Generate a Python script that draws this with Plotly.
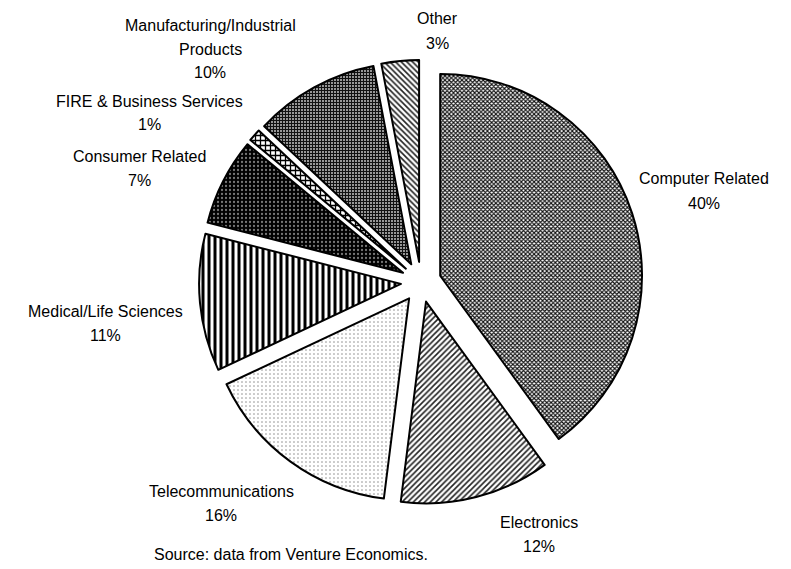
import plotly.graph_objects as go

categories = ["Computer Related", "Electronics", "Telecommunications",
              "Medical/Life Sciences", "Consumer Related",
              "FIRE & Business Services", "Manufacturing/Industrial Products", "Other"]
values = [40, 12, 16, 11, 7, 1, 10, 3]
label_lines = [["Computer Related"], ["Electronics"], ["Telecommunications"],
               ["Medical/Life Sciences"], ["Consumer Related"],
               ["FIRE & Business Services"], ["Manufacturing/Industrial", "Products"], ["Other"]]
source_text = "Source: data from Venture Economics."

W, H = 791, 569
pat_shape = ["x", "/", ".", "|", ".", "+", "+", "\\"]
pat_size = [3, 4, 4, 6, 4, 5, 3, 4]
pat_solid = [0.6, 0.4, 0.12, 0.5, 0.25, 0.45, 0.75, 0.4]
pat_fg = ["#111", "#222", "#888", "#000", "#777", "#000", "#111", "#222"]
pat_bg = ["#fff", "#fff", "#fff", "#fff", "#000", "#fff", "#fff", "#fff"]

cx, cy, half = 413, 274, 222
fig = go.Figure(go.Pie(
    labels=categories, values=values, sort=False, direction="clockwise",
    rotation=0, pull=[0.1] * len(values), textinfo="none", hoverinfo="label+percent",
    marker=dict(colors=pat_bg,
                pattern=dict(shape=pat_shape, size=pat_size, solidity=pat_solid,
                             fgcolor=pat_fg, bgcolor=pat_bg, fillmode="replace"),
                line=dict(color="#000", width=2)),
    domain=dict(x=[(cx - half) / W, (cx + half) / W],
                y=[(H - cy - half) / H, (H - cy + half) / H]),
    showlegend=False,
))

# label centres (px) for each category
label_pos = [(696, 183), (531, 526), (213, 495), (97, 315),
             (131, 160), (141, 105), (202, 41), (429, 23)]
annotations = []
font = dict(family="Liberation Sans, Arial, sans-serif", size=16, color="#000")
for lines, v, (px, py) in zip(label_lines, values, label_pos):
    all_lines = lines + [f"{v}%"]
    n = len(all_lines)
    for i, t in enumerate(all_lines):
        ly = py + (i - (n - 1) / 2) * 24
        annotations.append(dict(text=t, x=px / W, y=1 - ly / H, xref="paper", yref="paper",
                                showarrow=False, font=font, xanchor="center", yanchor="middle"))
annotations.append(dict(text=source_text, x=283 / W, y=1 - 546 / H, xref="paper", yref="paper",
                        showarrow=False, xanchor="center", yanchor="middle",
                        font=dict(family="Liberation Sans, Arial, sans-serif", size=16, color="#000")))

fig.update_layout(width=W, height=H, margin=dict(l=0, r=0, t=0, b=0),
                  paper_bgcolor="#fff", plot_bgcolor="#fff", annotations=annotations)
fig.write_html("out.html")
